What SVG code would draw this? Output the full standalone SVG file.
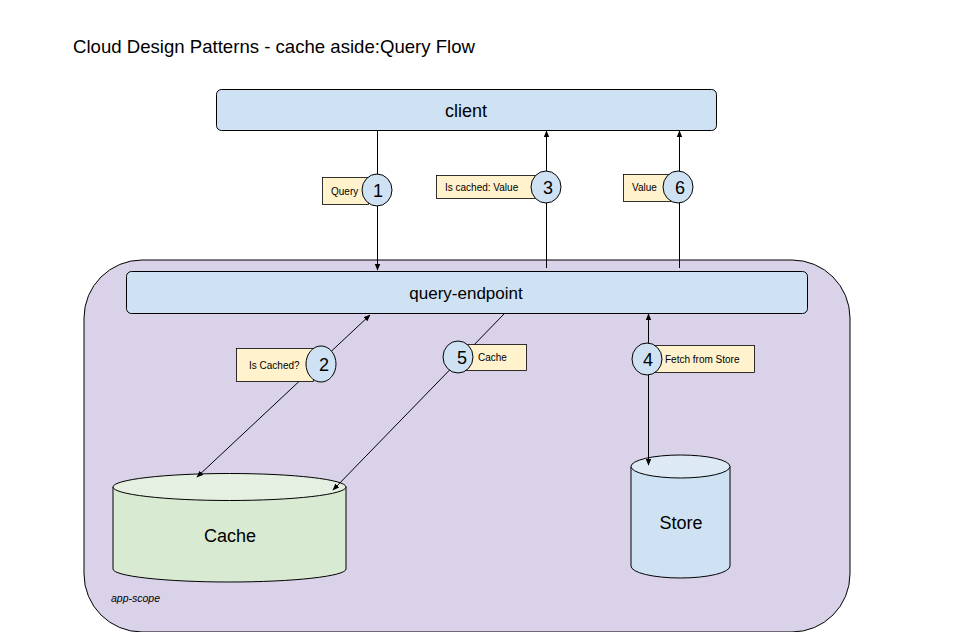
<svg xmlns="http://www.w3.org/2000/svg" width="956" height="632" viewBox="0 0 956 632">
<defs>
<marker id="ah" viewBox="0 0 10 10" refX="9" refY="5" markerWidth="7" markerHeight="7" orient="auto-start-reverse" markerUnits="userSpaceOnUse">
<path d="M0,1 L10,5 L0,9 z" fill="#000"/>
</marker>
<style>
text{font-family:"Liberation Sans",Arial,sans-serif;fill:#000}
.box{fill:#cfe2f3;stroke:#000;stroke-width:1}
.lbl{fill:#fff2cc;stroke:#000;stroke-width:0.8}
.num{fill:#cfe2f3;stroke:#000;stroke-width:1}
.ln{stroke:#000;stroke-width:1;fill:none}
.small{font-size:10px}
.n{font-size:18px;text-anchor:middle}
</style>
</defs>
<rect width="956" height="632" fill="#fff"/>
<text x="73" y="53" font-size="18.6">Cloud Design Patterns - cache aside:Query Flow</text>
<g id="app-scope">
<rect x="84" y="260" width="766" height="372" rx="58" ry="58" fill="#d9d2e9" stroke="#000" stroke-width="1"/>
<text x="111" y="602" font-size="10.5" font-style="italic">app-scope</text>
</g>
<g id="client">
<rect class="box" x="216.5" y="89.5" width="500" height="41" rx="5"/>
<text x="466" y="117" font-size="18" text-anchor="middle">client</text>
</g>
<g id="query-endpoint">
<rect class="box" x="126.5" y="271.5" width="681" height="42" rx="5"/>
<text x="466" y="299" font-size="17" text-anchor="middle">query-endpoint</text>
</g>
<g id="cache">
<path d="M113,487 L113,569 A116.5,13 0 0 0 346,569 L346,487" fill="#d9ead3" stroke="#000" stroke-width="1"/>
<ellipse cx="229.5" cy="487" rx="116.5" ry="13.5" fill="#e6f0e2" stroke="#000" stroke-width="1"/>
<text x="230" y="542" font-size="18" text-anchor="middle">Cache</text>
</g>
<g id="store">
<path d="M631,466.5 L631,566 A49.5,12 0 0 0 730,566 L730,466.5" fill="#cfe2f3" stroke="#000" stroke-width="1"/>
<ellipse cx="680.5" cy="466.5" rx="49.5" ry="11.5" fill="#dde9f5" stroke="#000" stroke-width="1"/>
<text x="681" y="529" font-size="18" text-anchor="middle">Store</text>
</g>
<g id="connectors">
<line class="ln" x1="377.5" y1="131" x2="377.5" y2="270" marker-end="url(#ah)"/>
<line class="ln" x1="546.5" y1="268" x2="546.5" y2="131" marker-end="url(#ah)"/>
<line class="ln" x1="679.5" y1="268" x2="679.5" y2="131" marker-end="url(#ah)"/>
<line class="ln" x1="197" y1="477" x2="370" y2="315" marker-start="url(#ah)" marker-end="url(#ah)"/>
<line class="ln" x1="504" y1="314" x2="333" y2="490" marker-end="url(#ah)"/>
<line class="ln" x1="648.5" y1="465" x2="648.5" y2="314" marker-start="url(#ah)" marker-end="url(#ah)"/>
</g>
<g id="label-1">
<rect class="lbl" x="322.5" y="177.5" width="46" height="27"/>
<text class="small" x="331" y="195">Query</text>
<ellipse class="num" cx="377" cy="190" rx="15" ry="16"/>
<text class="n" x="378" y="197">1</text>
</g>
<g id="label-3">
<rect class="lbl" x="436.5" y="175.5" width="104" height="23"/>
<text class="small" x="445" y="191">Is cached: Value</text>
<ellipse class="num" cx="546" cy="187" rx="15" ry="16"/>
<text class="n" x="548" y="194">3</text>
</g>
<g id="label-6">
<rect class="lbl" x="623.5" y="174.5" width="49" height="27"/>
<text class="small" x="632" y="191">Value</text>
<ellipse class="num" cx="678" cy="187" rx="15" ry="16"/>
<text class="n" x="680" y="194">6</text>
</g>
<g id="label-2">
<rect class="lbl" x="236.5" y="348.5" width="77" height="33"/>
<text class="small" x="249" y="369">Is Cached?</text>
<ellipse class="num" cx="321" cy="364" rx="15" ry="18"/>
<text class="n" x="324" y="371">2</text>
</g>
<g id="label-5">
<rect class="lbl" x="460.5" y="344.5" width="66" height="26"/>
<text class="small" x="478" y="361">Cache</text>
<ellipse class="num" cx="458" cy="357" rx="15" ry="16"/>
<text class="n" x="462" y="364">5</text>
</g>
<g id="label-4">
<rect class="lbl" x="650.5" y="345.5" width="104" height="27"/>
<text class="small" x="665" y="363">Fetch from Store</text>
<ellipse class="num" cx="647" cy="359" rx="15" ry="16"/>
<text class="n" x="648" y="366">4</text>
</g>
</svg>
